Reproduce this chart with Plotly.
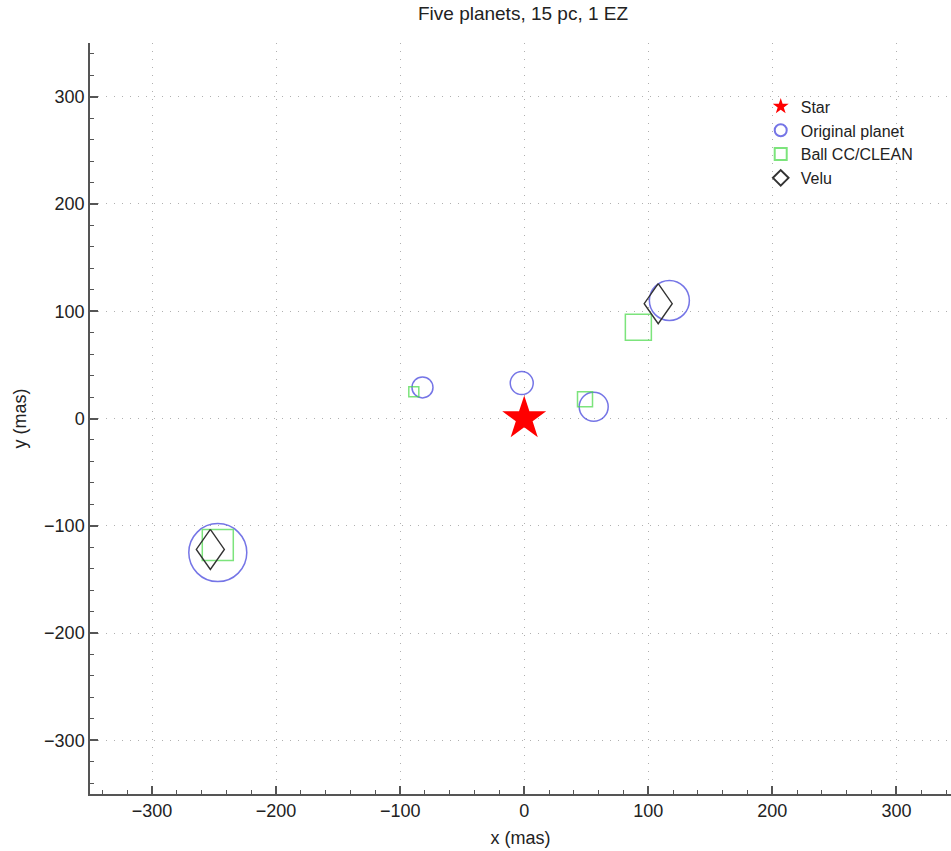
import plotly.graph_objects as go

# ---- data ----
star_x = [0]
star_y = [0]

planet_x = [-82, -2, 56, 117, -247]
planet_y = [29, 33, 11, 110, -125]

ball_x = [-89, 49, 92, -247]
ball_y = [25, 18, 85, -118]

velu_x = [108, -253]
velu_y = [107, -122]

tick_vals = [-300, -200, -100, 0, 100, 200, 300]

# ---- styles ----
planet_sizes = [21, 23, 29, 40, 58]
ball_sizes = [10, 15, 26, 31]
velu_half_w = 11.3   # data units (~14 px)
velu_half_h = 18.7   # data units (~20 px)

FONT = "Liberation Sans, Arial, Helvetica, sans-serif"
BLUE = "#3b3bdc"
GREEN = "#45d945"
DARK = "#333333"

fig = go.Figure()

fig.add_trace(go.Scatter(
    x=star_x, y=star_y, mode="markers", name="Star",
    marker=dict(symbol="star", size=33, color="#ff0000", line=dict(width=0)),
))
fig.add_trace(go.Scatter(
    x=planet_x, y=planet_y, mode="markers", name="Original planet",
    marker=dict(symbol="circle-open", size=planet_sizes, color=BLUE,
                line=dict(width=1.5, color=BLUE)),
))
fig.add_trace(go.Scatter(
    x=ball_x, y=ball_y, mode="markers", name="Ball CC/CLEAN",
    marker=dict(symbol="square-open", size=ball_sizes, color=GREEN,
                line=dict(width=1.5, color=GREEN)),
))

# Velu: tall diamonds outlined around each detected position
dx, dy = [], []
for cx, cy in zip(velu_x, velu_y):
    dx += [cx, cx + velu_half_w, cx, cx - velu_half_w, cx, None]
    dy += [cy + velu_half_h, cy, cy - velu_half_h, cy, cy + velu_half_h, None]
fig.add_trace(go.Scatter(
    x=dx, y=dy, mode="lines", showlegend=False, hoverinfo="skip",
    line=dict(color=DARK, width=1.4),
))
fig.add_trace(go.Scatter(
    x=[None], y=[None], mode="markers", name="Velu",
    marker=dict(symbol="diamond-open", size=12, color=DARK,
                line=dict(width=1.3, color=DARK)),
))

axis_common = dict(
    showline=True, linecolor="#555555", linewidth=1.5,
    ticks="inside", ticklen=8, tickwidth=1.5, tickcolor="#555555",
    tickvals=tick_vals,
    showgrid=True, gridcolor="#b0b0b0", gridwidth=1, griddash="1px,7px",
    zeroline=False, mirror=False,
    tickfont=dict(family=FONT, size=18, color="#222222"),
    minor=dict(ticks="inside", ticklen=4, tickwidth=1.2, tickcolor="#555555",
               dtick=20, tick0=0, showgrid=False),
)

fig.update_layout(
    width=951, height=851,
    margin=dict(l=90, r=0, t=43, b=57),
    paper_bgcolor="white", plot_bgcolor="white",
    title=dict(text="Five planets, 15 pc, 1 EZ", x=0.55, xanchor="center",
               y=0.984, yanchor="middle",
               font=dict(family=FONT, size=19, color="#222222")),
    xaxis=dict(range=[-350, 344], title=dict(text="x (mas)", standoff=11,
               font=dict(family=FONT, size=18, color="#222222")), **axis_common),
    yaxis=dict(range=[-350, 350], title=dict(text="y (mas)", standoff=13,
               font=dict(family=FONT, size=18, color="#222222")), **axis_common),
    legend=dict(x=0.779, y=0.938, xanchor="left", yanchor="top",
                bgcolor="rgba(0,0,0,0)", borderwidth=0,
                itemsizing="constant",
                font=dict(family=FONT, size=16, color="#222222")),
    showlegend=True,
)

fig.write_html("out.html",
               config={"displayModeBar": False},
               post_script="document.body.style.margin='0';"
                           "document.body.style.overflow='hidden';")
